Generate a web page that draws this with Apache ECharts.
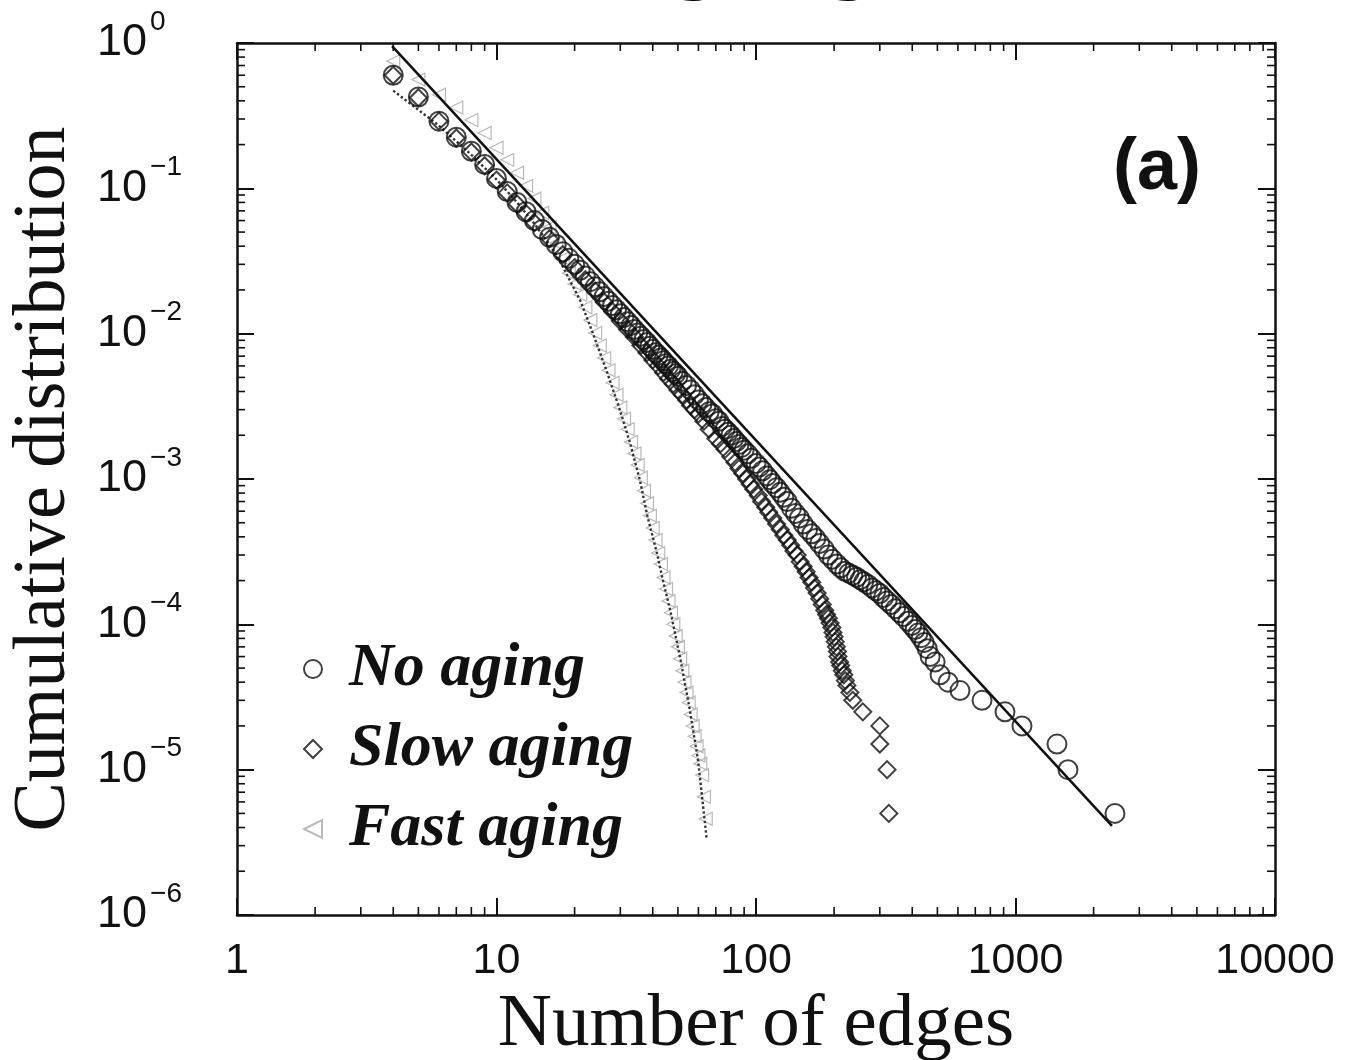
<!DOCTYPE html>
<html>
<head>
<meta charset="utf-8">
<title>Cumulative distribution</title>
<script src="https://cdn.jsdelivr.net/npm/echarts@6/dist/echarts.min.js"></script>
<style>
  html, body { margin: 0; padding: 0; background: #fff; }
  #chart { width: 1353px; height: 1060px; }
</style>
</head>
<body>
<div id="chart"></div>
<script>
// No aging (circles)
const noAgingK = [4,5,6,7,8,9,10,11,12,13,14,15,16,17,18,19,20,21,22,23,24,25,26,27,28,29,30,31,32,33,34,35,36,37,38,39,40,41,42,43,44,45,46,47,48,49,50,52,54,56,58,60,62,64,66,68,70,72,74,76,78,80,82,84,86,88,90,93,96,100,103,106,110,113,116,120,124,128,132,137,142,147,152,158,164,170,176,183,190,197,205,212,220,228,236,244,252,260,270,280,290,300,310,320,332,345,358,370,385,398,410,421,433,445,457,469,490,512,550,611,743,911,1059,1445,1593,2417];
const noAgingP = [0.60,0.425,0.29,0.225,0.180,0.146,0.117,0.095,0.080,0.069,0.060,0.052,0.046,0.041,0.0366,0.033,0.030,0.0273,0.0249,0.0228,0.0210,0.0194,0.0180,0.0167,0.0156,0.0146,0.0137,0.0129,0.0121,0.0114,0.0107,0.0101,0.0096,0.0091,0.0087,0.0082,0.0078,0.0074,0.0071,0.0068,0.0065,0.0062,0.0060,0.0057,0.0055,0.0053,0.0051,0.0047,0.0044,0.0041,0.0038,0.0035,0.0033,0.0031,0.0029,0.0028,0.0026,0.0025,0.0023,0.0022,0.0021,0.0020,0.0019,0.00181,0.00173,0.00165,0.00158,0.00149,0.00139,0.00128,0.00121,0.00114,0.00105,0.00099,0.00093,0.00087,0.00081,0.00075,0.00070,0.00063,0.00058,0.00054,0.00049,0.00045,0.00042,0.00039,0.00036,0.00033,0.00030,0.00028,0.00026,0.000245,0.000232,0.000225,0.000218,0.000211,0.000203,0.000196,0.000188,0.000178,0.000170,0.000163,0.000153,0.000145,0.000137,0.000128,0.000120,0.000113,0.000105,0.000098,0.000092,0.000087,0.000081,0.000075,0.000068,0.000060,0.000055,0.000045,0.000040,0.000035,0.000030,0.000025,0.000020,0.000015,0.000010,0.000005];

// Slow aging (diamonds)
const slowAgingK = [4,5,6,7,8,9,10,11,12,13,14,16,18,20,22,24,26,28,30,32,34,36,38,40,42,44,46,48,50,52,54,56,58,60,63,66,70,73,76,80,83,86,89,92,95,98,102,105,109,112,116,120,124,128,132,136,140,144,148,152,156,160,164,168,172,176,180,184,187,190,193,196,198,200,202,204,206,207,210,212,215,218,221,224,230,236,258,300,300,320,325];
const slowAgingP = [0.60,0.42,0.29,0.222,0.178,0.143,0.114,0.093,0.078,0.067,0.058,0.045,0.035,0.0285,0.0235,0.0197,0.0165,0.0142,0.0122,0.0107,0.0095,0.0083,0.0074,0.0066,0.0060,0.0054,0.0049,0.0045,0.0041,0.0038,0.0035,0.0032,0.0030,0.0028,0.0025,0.0022,0.0019,0.00175,0.0016,0.00142,0.0013,0.00118,0.00109,0.00100,0.00092,0.00085,0.00077,0.00070,0.00064,0.00059,0.00054,0.00049,0.00045,0.00041,0.00038,0.00035,0.00032,0.00030,0.00027,0.00025,0.00023,0.00021,0.000195,0.000178,0.000164,0.000150,0.000137,0.000125,0.000117,0.000110,0.000102,0.000095,0.000088,0.000082,0.000076,0.000070,0.000065,0.000060,0.000055,0.000052,0.000048,0.000045,0.000041,0.000038,0.000034,0.000030,0.000025,0.000020,0.000015,0.000010,0.000005];

// Fast aging (triangles)
const fastAgingK = [4,5,6,7,8,9,10,11,12,13,14,15,16,17,18,19,20,21,22,23,24,25,26,27,28,29,30,31,32,33,34,35,36,37,38,39,40,41,42,43,44,45,46,47,48,49,50,51,52,53,54,55,56,57,58,59,60,61,62,63,64];
const fastAgingP = [0.75,0.56,0.44,0.36,0.295,0.24,0.19,0.157,0.128,0.104,0.085,0.068,0.054,0.042,0.033,0.026,0.022,0.0185,0.0152,0.0124,0.0101,0.0083,0.0068,0.0056,0.0046,0.0038,0.0031,0.0026,0.0022,0.0018,0.0015,0.00125,0.00102,0.00083,0.00068,0.00056,0.00046,0.00038,0.00031,0.00026,0.00021,0.000175,0.000145,0.00012,0.0001,0.000083,0.00007,0.000058,0.000048,0.00004,0.000034,0.000029,0.000024,0.00002,0.000017,0.0000145,0.0000125,0.000011,0.0000092,0.0000065,0.0000046];

// dotted curve through the fast aging data
const fastFitK = [4,6,8,10,12,14,16,18,21,23.5,26.7,29.9,32.7,35.7,38.2,41.5,43.8,46.7,51.2,55.6,59.8,64.6];
const fastFitP = [0.47,0.27,0.17,0.115,0.08,0.057,0.041,0.029,0.017,0.0101,0.0054,0.00298,0.00177,0.00098,0.00055,0.00031,0.0002,0.000125,0.000057,0.0000257,0.0000116,0.0000033];

// straight power-law line
const powerFitK = [3.96, 2354];
const powerFitP = [0.953, 0.0000041];

// minor tick positions
const xMinorTicks = [2,3,4,5,6,7,8,9,20,30,40,50,60,70,80,90,200,300,400,500,600,700,800,900,2000,3000,4000,5000,6000,7000,8000,9000];
const yMinorTicks = [2e-6,3e-6,4e-6,5e-6,6e-6,7e-6,8e-6,9e-6,2e-5,3e-5,4e-5,5e-5,6e-5,7e-5,8e-5,9e-5,2e-4,3e-4,4e-4,5e-4,6e-4,7e-4,8e-4,9e-4,0.002,0.003,0.004,0.005,0.006,0.007,0.008,0.009,0.02,0.03,0.04,0.05,0.06,0.07,0.08,0.09,0.2,0.3,0.4,0.5,0.6,0.7,0.8,0.9];

const xMin = 1, xMax = 10000, yMin = 1e-6, yMax = 1;

const pairs = (a, b) => a.map((v, i) => [v, b[i]]);

const chart = echarts.init(document.getElementById('chart'), null, { renderer: 'canvas' });

const axisLine = { show: true, lineStyle: { color: '#111', width: 2.5 } };
const majorTick = { show: true, inside: true, length: 17, lineStyle: { color: '#111', width: 2 } };

const option = {
  backgroundColor: '#fff',
  animation: false,
  graphic: [
    { type: 'text', left: 606, top: -101, style: { text: 'aging', font: 'bold 103px "Liberation Sans"', fill: '#000' } },
    { type: 'text', left: 1113, top: 133, style: { text: '(a)', font: 'bold 72px "Liberation Sans"', fill: '#111' } }
  ],
  grid: { left: 237, right: 78, top: 43, bottom: 145, containLabel: false, outerBoundsMode: 'none' },
  legend: {
    data: ['No aging', 'Slow aging', 'Fast aging'],
    orient: 'vertical',
    left: 303,
    top: 638,
    padding: 0,
    itemGap: 18,
    itemWidth: 18,
    itemHeight: 18,
    textStyle: {
      fontFamily: 'Liberation Serif', fontStyle: 'italic', fontWeight: 'bold',
      fontSize: 62, lineHeight: 62, color: '#111', padding: [0, 0, 0, 22]
    }
  },
  xAxis: [
    {
      type: 'log', logBase: 10, min: xMin, max: xMax, splitNumber: 4,
      axisLine, axisTick: majorTick, splitLine: { show: false },
      axisLabel: {
        fontFamily: 'Liberation Sans', fontSize: 43, color: '#111', margin: 25,
        formatter: v => String(Math.round(v))
      },
      name: 'Number of edges', nameLocation: 'middle', nameGap: 68,
      nameTextStyle: { fontFamily: 'Liberation Serif', fontSize: 75, color: '#111' }
    },
    {
      type: 'log', logBase: 10, min: xMin, max: xMax, splitNumber: 4, position: 'top',
      axisLine, axisTick: majorTick, splitLine: { show: false }, axisLabel: { show: false }
    }
  ],
  yAxis: [
    {
      type: 'log', logBase: 10, min: yMin, max: yMax, splitNumber: 6,
      axisLine, axisTick: majorTick, splitLine: { show: false },
      axisLabel: {
        align: 'left', margin: 140,
        formatter: v => '{b|10}{s|' + String(Math.round(Math.log10(v))).replace('-', '\u2212') + '}',
        rich: {
          b: { fontFamily: 'Liberation Sans', fontSize: 45, lineHeight: 70, color: '#111', verticalAlign: 'middle' },
          s: { fontFamily: 'Liberation Sans', fontSize: 28, lineHeight: 28, color: '#111', verticalAlign: 'top', padding: [0, 0, 0, 3] }
        }
      },
      name: 'Cumulative distribution', nameLocation: 'middle', nameGap: 155,
      nameTextStyle: { fontFamily: 'Liberation Serif', fontSize: 74, color: '#111' }
    },
    {
      type: 'log', logBase: 10, min: yMin, max: yMax, splitNumber: 6, position: 'right',
      axisLine, axisTick: majorTick, splitLine: { show: false }, axisLabel: { show: false }
    }
  ],
  series: [
    {
      name: 'Fast aging', type: 'scatter',
      symbol: 'path://M10,0 L10,10 L0,5 Z', symbolSize: 13,
      itemStyle: { color: 'rgba(0,0,0,0)', borderColor: '#a8a8a8', borderWidth: 1.2 },
      data: pairs(fastAgingK, fastAgingP), z: 2
    },
    {
      name: 'fast fit', type: 'line', symbol: 'none', silent: true,
      lineStyle: { color: '#333', width: 2.4, type: 'dotted' },
      data: pairs(fastFitK, fastFitP), z: 3
    },
    {
      name: 'Slow aging', type: 'scatter', symbol: 'diamond', symbolSize: 17,
      itemStyle: { color: 'rgba(0,0,0,0)', borderColor: '#111', borderWidth: 2 },
      data: pairs(slowAgingK, slowAgingP), z: 4
    },
    {
      name: 'No aging', type: 'scatter', symbol: 'circle', symbolSize: 19,
      itemStyle: { color: 'rgba(0,0,0,0)', borderColor: '#111', borderWidth: 2 },
      data: pairs(noAgingK, noAgingP), z: 5
    },
    {
      name: 'power law', type: 'line', symbol: 'none', silent: true,
      lineStyle: { color: '#111', width: 2.5 },
      data: pairs(powerFitK, powerFitP), z: 6
    },
    {
      name: 'x minor ticks', type: 'custom', silent: true, clip: false,
      data: xMinorTicks.map(k => [k, yMin]),
      renderItem: (params, api) => {
        const k = api.value(0);
        const b = api.coord([k, yMin]);
        const t = api.coord([k, yMax]);
        const st = { stroke: '#111', lineWidth: 1.6 };
        return { type: 'group', children: [
          { type: 'line', shape: { x1: b[0], y1: b[1], x2: b[0], y2: b[1] - 8 }, style: st },
          { type: 'line', shape: { x1: t[0], y1: t[1], x2: t[0], y2: t[1] + 8 }, style: st }
        ] };
      }
    },
    {
      name: 'y minor ticks', type: 'custom', silent: true, clip: false,
      data: yMinorTicks.map(v => [xMin, v]),
      renderItem: (params, api) => {
        const v = api.value(1);
        const l = api.coord([xMin, v]);
        const r = api.coord([xMax, v]);
        const st = { stroke: '#111', lineWidth: 1.6 };
        return { type: 'group', children: [
          { type: 'line', shape: { x1: l[0], y1: l[1], x2: l[0] + 8, y2: l[1] }, style: st },
          { type: 'line', shape: { x1: r[0], y1: r[1], x2: r[0] - 8, y2: r[1] }, style: st }
        ] };
      }
    }
  ]
};

chart.setOption(option);
window.addEventListener('resize', () => chart.resize());
</script>
</body>
</html>
